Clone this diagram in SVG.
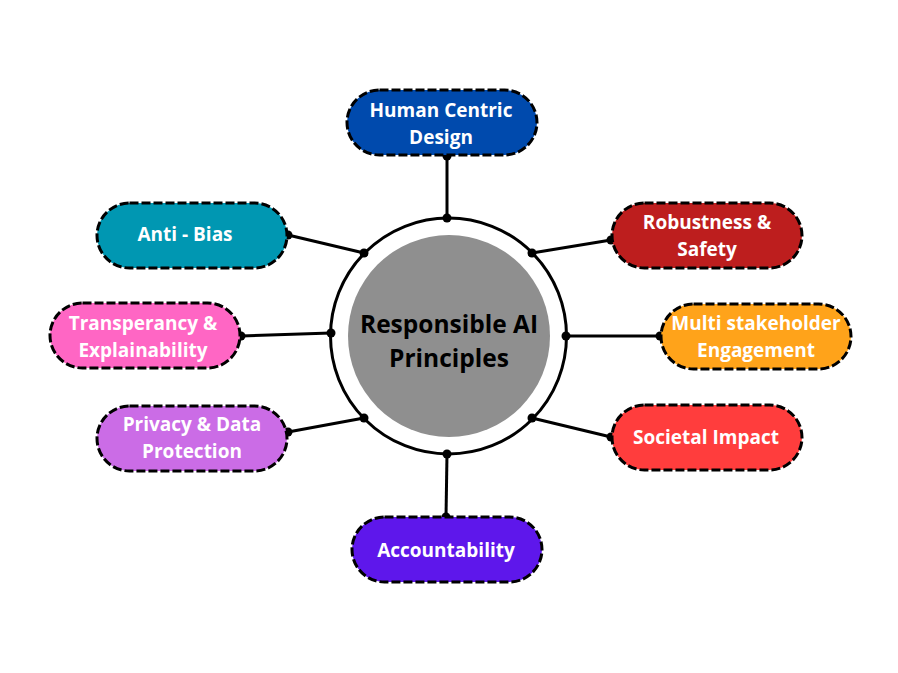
<svg xmlns="http://www.w3.org/2000/svg" width="898" height="673" viewBox="0 0 898 673">
<style>
.pill{stroke:#000;stroke-width:3;stroke-dasharray:9 3}
.t{font-family:"Open Sans","Liberation Sans",sans-serif;font-weight:700;font-size:19px;fill:#fff;text-anchor:middle}
.c{font-family:"Open Sans","Liberation Sans",sans-serif;font-weight:700;font-size:24.5px;fill:#000;text-anchor:middle}
.ln{stroke:#000;stroke-width:3;fill:none}
.dot{fill:#000}
</style>
<rect width="898" height="673" fill="#fff"/>
<g id="center">
<circle cx="448.5" cy="336" r="118" fill="#fff" stroke="#000" stroke-width="3"/>
<circle cx="449" cy="336" r="101" fill="#8f8f8f"/>
<text class="c" x="449" y="333">Responsible AI</text>
<text class="c" x="449" y="367">Principles</text>
</g>
<g id="connectors">
<line class="ln" x1="447" y1="218" x2="447" y2="156"/>
<line class="ln" x1="364" y1="253" x2="288" y2="235"/>
<line class="ln" x1="532" y1="253" x2="611" y2="240"/>
<line class="ln" x1="331" y1="333" x2="241" y2="336"/>
<line class="ln" x1="566" y1="336" x2="660" y2="336"/>
<line class="ln" x1="364" y1="418" x2="288" y2="432"/>
<line class="ln" x1="532" y1="418" x2="611" y2="437"/>
<line class="ln" x1="447" y1="454" x2="446" y2="517"/>
<circle class="dot" cx="447" cy="218" r="4.5"/><circle class="dot" cx="447" cy="156" r="4.5"/>
<circle class="dot" cx="364" cy="253" r="4.5"/><circle class="dot" cx="288" cy="235" r="4.5"/>
<circle class="dot" cx="532" cy="253" r="4.5"/><circle class="dot" cx="611" cy="240" r="4.5"/>
<circle class="dot" cx="331" cy="333" r="4.5"/><circle class="dot" cx="241" cy="336" r="4.5"/>
<circle class="dot" cx="566" cy="336" r="4.5"/><circle class="dot" cx="660" cy="336" r="4.5"/>
<circle class="dot" cx="364" cy="418" r="4.5"/><circle class="dot" cx="288" cy="432" r="4.5"/>
<circle class="dot" cx="532" cy="418" r="4.5"/><circle class="dot" cx="611" cy="437" r="4.5"/>
<circle class="dot" cx="447" cy="454" r="4.5"/><circle class="dot" cx="446" cy="517" r="4.5"/>
</g>
<g id="human-centric">
<rect class="pill" x="347" y="90" width="190" height="65" rx="32.5" fill="#004aad"/>
<text class="t" x="441" y="117">Human Centric</text>
<text class="t" x="441" y="144">Design</text>
</g>
<g id="anti-bias">
<rect class="pill" x="97" y="203" width="190" height="65" rx="32.5" fill="#0097b2"/>
<text class="t" x="185" y="241">Anti - Bias</text>
</g>
<g id="robustness">
<rect class="pill" x="612" y="203" width="190" height="65" rx="32.5" fill="#bd1e1e"/>
<text class="t" x="707" y="229">Robustness &amp;</text>
<text class="t" x="707" y="256">Safety</text>
</g>
<g id="transparency">
<rect class="pill" x="50" y="303" width="190" height="65" rx="32.5" fill="#ff66c4"/>
<text class="t" x="143" y="330">Transperancy &amp;</text>
<text class="t" x="143" y="357">Explainability</text>
</g>
<g id="multi-stakeholder">
<rect class="pill" x="661" y="304" width="190" height="65" rx="32.5" fill="#ffa31a"/>
<text class="t" x="756" y="330">Multi stakeholder</text>
<text class="t" x="756" y="357">Engagement</text>
</g>
<g id="privacy">
<rect class="pill" x="97" y="406" width="190" height="65" rx="32.5" fill="#cb6ce6"/>
<text class="t" x="192" y="431">Privacy &amp; Data</text>
<text class="t" x="192" y="458">Protection</text>
</g>
<g id="societal">
<rect class="pill" x="612" y="405" width="190" height="65" rx="32.5" fill="#ff3d3d"/>
<text class="t" x="706" y="444">Societal Impact</text>
</g>
<g id="accountability">
<rect class="pill" x="352" y="517" width="190" height="65" rx="32.5" fill="#5e17eb"/>
<text class="t" x="446" y="557">Accountability</text>
</g>
</svg>
